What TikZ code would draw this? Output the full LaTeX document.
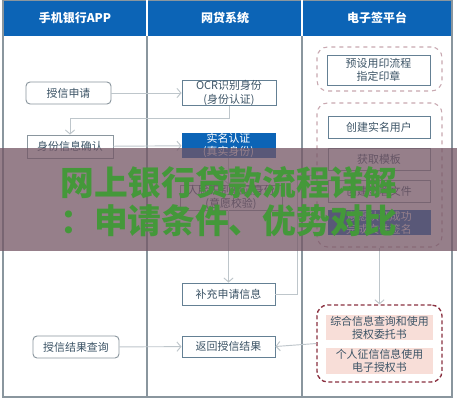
\documentclass[tikz,border=0pt]{standalone}
\usepackage{fontspec}
\setmainfont{Noto Sans CJK SC}
\usetikzlibrary{arrows.meta}
\definecolor{hdrblue}{RGB}{12,100,182}
\definecolor{frameline}{RGB}{138,150,158}
\definecolor{boxline}{RGB}{100,128,148}
\definecolor{boxtext}{RGB}{60,84,102}
\definecolor{linkgray}{RGB}{190,198,203}
\definecolor{grpline}{RGB}{200,168,176}
\definecolor{grpred}{RGB}{138,48,64}
\definecolor{pinkfill}{RGB}{248,222,216}
\definecolor{bandmauve}{RGB}{115,85,100}
\definecolor{markgreen}{RGB}{68,152,58}

\tikzset{
  box/.style={draw=boxline,line width=0.7pt,fill=white,text=boxtext,inner sep=0pt,
    minimum width=#1*0.75pt,minimum height=22*0.75pt,align=center,
    font=\fontsize{8.2}{10}\selectfont},
  box/.default=93,
  roundbox/.style={box=#1,rounded corners=3pt,draw=frameline},
  roundbox/.default=86,
  bluebox/.style={box=#1,fill=hdrblue,draw=hdrblue,text=white},
  bluebox/.default=93,
  pinkbox/.style={box=#1,draw=none,fill=pinkfill,minimum height=25*0.75pt},
  pinkbox/.default=107,
  group/.style={draw=grpline,dashed,line width=0.8pt,rounded corners=8pt,
    inner sep=0pt,minimum width=125*0.75pt},
  redgroup/.style={group,draw=grpred,line width=1pt,dash pattern=on 3pt off 2pt},
  header/.style={text=white,font=\fontsize{9}{11}\selectfont\bfseries},
  link/.style={draw=linkgray,line width=0.7pt,-{Straight Barb[length=3pt,width=7pt]}},
  frame/.style={draw=frameline,line width=0.8pt}
}

\begin{document}
\begin{tikzpicture}[x=0.75pt,y=0.75pt,yscale=-1]
    \useasboundingbox (0,0) rectangle (457,400);
    \fill[white] (0,0) rectangle (457,400);

    % swim lanes
    \fill[hdrblue] (3,0) rectangle (452,36);
    \draw[frame] (3,0) rectangle (452,397);
    \draw[frame] (147,36) -- (147,397);
    \draw[frame] (302,36) -- (302,397);
    \draw[white,line width=1pt] (147,0) -- (147,36);
    \draw[white,line width=1pt] (302,0) -- (302,36);
    \node[header] (hApp) at (75,18) {手机银行APP};
    \node[header] (hLoan) at (225,18) {网贷系统};
    \node[header] (hSign) at (377,18) {电子签平台};

    % mobile banking app
    \node[roundbox=85] (apply) at (68.5,93) {授信申请};
    \node[box=86,draw=frameline,minimum height=23*0.75pt] (confirm) at (70,146.5) {身份信息确认};
    \node[roundbox] (query) at (76,347) {授信结果查询};

    % online loan system
    \node[box=94] (ocr) at (229,93) {OCR识别身份\\(身份认证)};
    \node[bluebox,minimum height=23*0.75pt] (realname) at (228.5,145.5) {实名认证\\(真实身份)};
    \node[box=102,draw=frameline,minimum height=25*0.75pt] (face) at (231,197.5) {人脸识别验证身份\\(意愿校验)};
    \node[box] (supp) at (228.5,294) {补充申请信息};
    \node[box,minimum height=21*0.75pt] (result) at (228.5,346.5) {返回授信结果};

    % e-sign platform
    \node[group,minimum height=44*0.75pt] (grp1) at (379.5,69) {};
    \node[box=103,minimum height=30*0.75pt] (seal) at (378.5,70) {预设用印流程\\指定印章};
    \node[group,minimum height=144*0.75pt] (grp2) at (379.5,175) {};
    \node[box=102] (user) at (379,127) {创建实名用户};
    \node[box=102,draw=frameline] (tmpl) at (379,159) {获取模板};
    \node[box=102,draw=frameline] (file) at (379,191) {创建签署文件};
    \node[bluebox=102,minimum height=21*0.75pt] (sign) at (379,222.5) {意愿认证成功\\完成文件签名};
    \node[redgroup,minimum height=77*0.75pt] (grp3) at (379.5,343.5) {};
    \node[pinkbox] (auth1) at (379.5,327.5) {综合信息查询和使用\\授权委托书};
    \node[pinkbox,minimum height=26*0.75pt] (auth2) at (379.5,361) {个人征信信息使用\\电子授权书};

    % connectors
    \coordinate (bend) at (297,175);
    \draw[link] (apply) -- (ocr);
    \draw[link] (ocr.south) -- ++(0,13) -| (confirm.north);
    \draw[link] (confirm) -- (realname);
    \draw[link] (realname.south) -- (realname.south |- face.north);
    \draw[link] (face.south -| supp.north) -- (supp.north);
    \draw[link] (supp.east) -| (bend) -- (grp2.west);
    \draw[link] (grp2.south) -- (grp3.north);
    \draw[link] (grp3.west) -- (result.east);
    \draw[link] (query) -- (result);

    % watermark band
    \fill[bandmauve,opacity=0.75] (0,148) rectangle (457,251);
    \node[anchor=west,inner sep=0pt,text=markgreen,font=\fontsize{25.3}{28.5}\selectfont\bfseries] (mark1) at (60,183) {网上银行贷款流程详解};
    \node[anchor=west,inner sep=0pt,text=markgreen,font=\fontsize{25.3}{28.5}\selectfont\bfseries] (mark2) at (60,221) {：申请条件、优势对比};
\end{tikzpicture}
\end{document}
